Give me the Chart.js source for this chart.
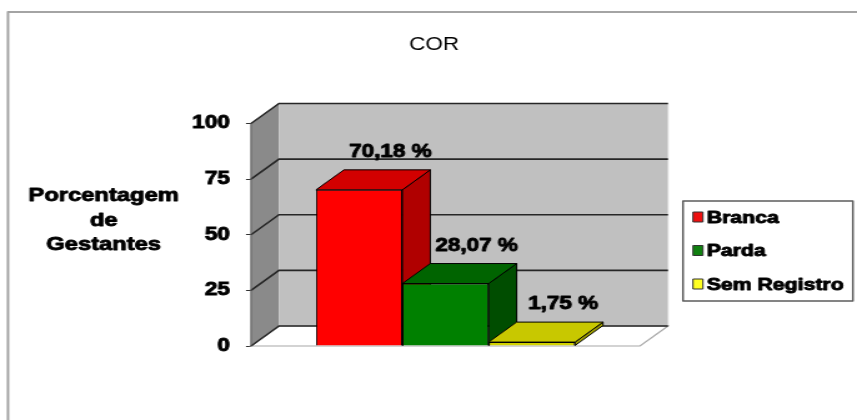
<!DOCTYPE html>
<html lang="pt">
<head>
<meta charset="utf-8">
<title>COR</title>
<script src="https://cdn.jsdelivr.net/npm/chart.js@4.4.1/dist/chart.umd.min.js"></script>
<style>
  html, body { margin: 0; padding: 0; background: #fff; }
  #chart { display: block; }
</style>
</head>
<body>
<!-- drawn narrow, shown wide: the old sheet export was stretched sideways -->
<canvas id="chart" width="686" height="420" style="width:857px;height:420px"></canvas>
<script>
// ===== DATA =====
const chartTitle = 'COR';
const categories = ['Branca', 'Parda', 'Sem Registro'];
const percentages = [70.18, 28.07, 1.75];
const yTicks = [0, 25, 50, 75, 100];
const yTitleLines = ['Porcentagem', 'de', 'Gestantes'];

// front / top / side shades for each bar
const frontColors = ['#ff0000', '#008000', '#d2d200'];
const topColors = ['#d20000', '#006400', '#c8c800'];
const sideColors = ['#b00000', '#004d00', '#9c9c00'];
const legendColors = ['#ee1010', '#108010', '#ffff20'];

const FONT = "'Liberation Sans', Arial, sans-serif";
const HEAVY = 0.9; // extra stroke so the bold labels read as heavy as the sheet's
const DEPTH_X = 22.4;
const DEPTH_Y = -20;

function poly(ctx, pts) {
    ctx.beginPath();
    ctx.moveTo(pts[0][0], pts[0][1]);
    for (let i = 1; i < pts.length; i++) {
        ctx.lineTo(pts[i][0], pts[i][1]);
    }
    ctx.closePath();
}

function heavyText(ctx, text, x, y) {
    ctx.strokeStyle = '#000';
    ctx.lineWidth = HEAVY;
    ctx.lineJoin = 'round';
    ctx.strokeText(text, x, y);
    ctx.fillText(text, x, y);
}

function formatPct(v) {
    return v.toFixed(2).replace('.', ',') + ' %';
}

// ===== 3D BOX PLUGIN =====
const box3d = {
    id: 'box3d',
    beforeDatasetsDraw(chart) {
        const { ctx, chartArea: a, scales: { y } } = chart;
        const dx = DEPTH_X, dy = DEPTH_Y;
        ctx.save();

        // left wall
        ctx.fillStyle = '#8a8a8a';
        poly(ctx, [[a.left, a.top], [a.left + dx, a.top + dy], [a.left + dx, a.bottom + dy], [a.left, a.bottom]]);
        ctx.fill();

        // back wall
        ctx.fillStyle = '#c0c0c0';
        ctx.fillRect(a.left + dx, a.top + dy, a.right - a.left, a.bottom - a.top);
        ctx.strokeStyle = '#d8d8d8';
        ctx.lineWidth = 1;
        ctx.beginPath();
        ctx.moveTo(a.right + dx, a.top + dy);
        ctx.lineTo(a.right + dx, a.bottom + dy);
        ctx.stroke();

        // floor
        ctx.fillStyle = '#ffffff';
        ctx.strokeStyle = '#a8a8a8';
        ctx.lineWidth = 1.2;
        poly(ctx, [[a.left, a.bottom], [a.right, a.bottom], [a.right + dx, a.bottom + dy], [a.left + dx, a.bottom + dy]]);
        ctx.fill();
        ctx.stroke();

        // gridlines across the side wall and the back wall
        ctx.strokeStyle = '#262626';
        ctx.lineWidth = 1.6;
        yTicks.forEach(v => {
            const py = y.getPixelForValue(v);
            ctx.beginPath();
            ctx.moveTo(a.left, py);
            ctx.lineTo(a.left + dx, py + dy);
            ctx.lineTo(a.right + dx, py + dy);
            ctx.stroke();
        });

        // front edge of the left wall
        ctx.strokeStyle = '#5a5a5a';
        ctx.lineWidth = 1;
        ctx.beginPath();
        ctx.moveTo(a.left, a.top);
        ctx.lineTo(a.left, a.bottom);
        ctx.stroke();

        // tops and right sides of the bars (fronts come from Chart.js)
        ctx.strokeStyle = '#000';
        ctx.lineWidth = 1;
        ctx.lineJoin = 'round';
        chart.data.datasets.forEach((ds, i) => {
            const bar = chart.getDatasetMeta(i).data[0];
            const l = bar.x - bar.width / 2;
            const r = bar.x + bar.width / 2;
            const t = bar.y;
            const b = bar.base;
            ctx.fillStyle = sideColors[i];
            poly(ctx, [[r, t], [r + dx, t + dy], [r + dx, b + dy], [r, b]]);
            ctx.fill();
            ctx.stroke();
            ctx.fillStyle = topColors[i];
            poly(ctx, [[l, t], [r, t], [r + dx, t + dy], [l + dx, t + dy]]);
            ctx.fill();
            ctx.stroke();
        });
        ctx.restore();
    },
    afterDatasetsDraw(chart) {
        const { ctx } = chart;
        ctx.save();
        ctx.font = 'bold 18px ' + FONT;
        ctx.fillStyle = '#000';
        ctx.textAlign = 'center';
        ctx.textBaseline = 'alphabetic';
        chart.data.datasets.forEach((ds, i) => {
            const bar = chart.getDatasetMeta(i).data[0];
            heavyText(ctx, formatPct(ds.data[0]), bar.x + 25, bar.y + DEPTH_Y - 13);
        });
        ctx.restore();
    },
    afterDraw(chart) {
        const { ctx } = chart;
        ctx.save();
        ctx.fillStyle = '#000';
        ctx.textAlign = 'center';
        ctx.textBaseline = 'middle';

        // title
        ctx.font = '18px ' + FONT;
        ctx.fillText(chartTitle, 347.5, 45);

        // axis title, kept upright on three lines
        ctx.font = 'bold 19px ' + FONT;
        yTitleLines.forEach((line, i) => {
            heavyText(ctx, line, 83, 196 + i * 24.5);
        });

        // legend box
        const lx = 546.7, ly = 201, lw = 136, lh = 100;
        ctx.strokeStyle = '#5c5c5c';
        ctx.lineWidth = 1.5;
        ctx.strokeRect(lx, ly, lw, lh);
        ctx.textAlign = 'left';
        ctx.font = 'bold 17px ' + FONT;
        categories.forEach((name, i) => {
            const cy = 217 + i * 33.5;
            ctx.fillStyle = legendColors[i];
            ctx.fillRect(lx + 8, cy - 5, 8, 10);
            ctx.strokeStyle = '#333';
            ctx.lineWidth = 1;
            ctx.strokeRect(lx + 8, cy - 5, 8, 10);
            ctx.fillStyle = '#000';
            heavyText(ctx, name, lx + 19, cy + 1);
        });

        // outer frame (top and left edges only are on the page)
        ctx.strokeStyle = '#a4a4a4';
        ctx.lineWidth = 2;
        ctx.beginPath();
        ctx.moveTo(6.4, chart.height);
        ctx.lineTo(6.4, 12);
        ctx.lineTo(chart.width, 12);
        ctx.stroke();
        ctx.restore();
    }
};

// ===== CHART =====
const datasets = categories.map((name, i) => ({
    label: name,
    data: [percentages[i]],
    backgroundColor: frontColors[i],
    borderColor: '#000',
    borderWidth: 1,
    categoryPercentage: 0.666,
    barPercentage: 1
}));

new Chart(document.getElementById('chart'), {
    type: 'bar',
    data: {
        labels: [''],
        datasets: datasets
    },
    options: {
        responsive: false,
        animation: false,
        devicePixelRatio: 1,
        layout: {
            padding: { top: 123.5, bottom: 74, left: 0, right: 173.7 }
        },
        plugins: {
            legend: { display: false },
            title: { display: false },
            tooltip: { enabled: false }
        },
        scales: {
            x: { display: false },
            y: {
                min: 0,
                max: 100,
                afterFit(axis) {
                    axis.width = 200.9;
                },
                afterBuildTicks(axis) {
                    axis.ticks = yTicks.map(v => ({ value: v }));
                },
                border: { display: false },
                grid: {
                    drawOnChartArea: false,
                    drawTicks: true,
                    tickLength: 4,
                    color: '#333'
                },
                ticks: {
                    padding: 13,
                    color: '#000',
                    textStrokeColor: '#000',
                    textStrokeWidth: HEAVY,
                    font: { family: FONT, size: 18, weight: 'bold' }
                }
            }
        }
    },
    plugins: [box3d]
});
</script>
</body>
</html>
